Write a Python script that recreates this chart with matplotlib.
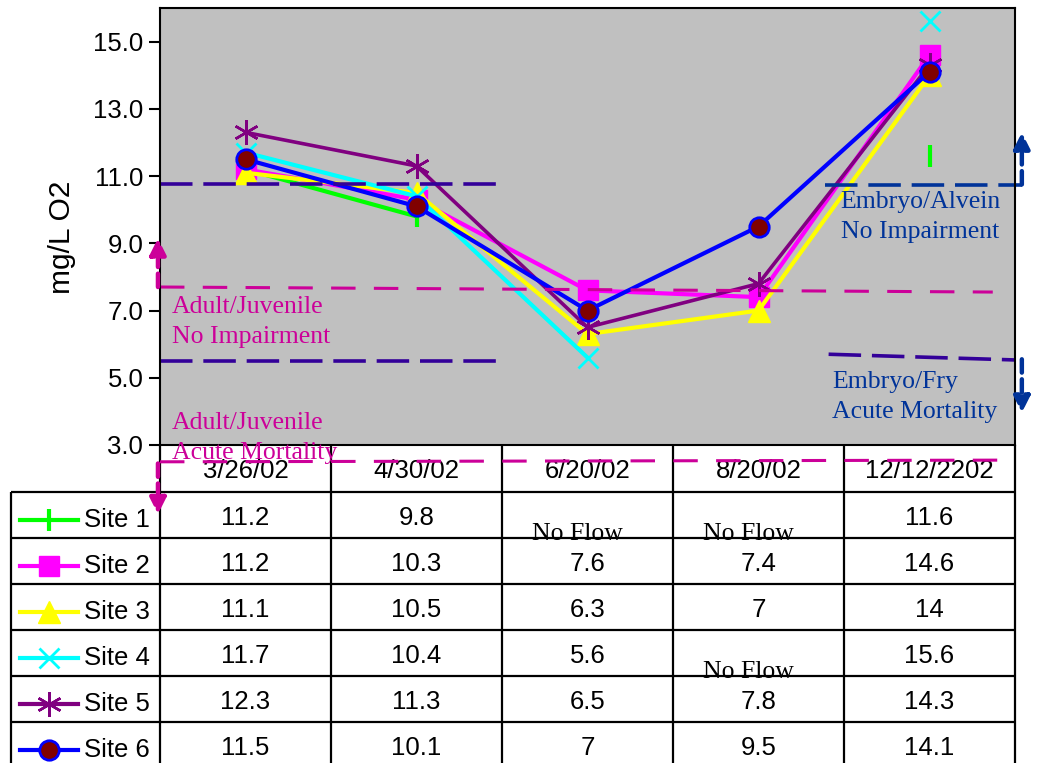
import numpy as np
import matplotlib.pyplot as plt

# dissolved oxygen per site and sampling date (None = no flow)
dates = ['3/26/02', '4/30/02', '6/20/02', '8/20/02', '12/12/2202']
sites = ['Site 1', 'Site 2', 'Site 3', 'Site 4', 'Site 5', 'Site 6']
site1 = [11.2, 9.8, None, None, 11.6]
site2 = [11.2, 10.3, 7.6, 7.4, 14.6]
site3 = [11.1, 10.5, 6.3, 7, 14]
site4 = [11.7, 10.4, 5.6, None, 15.6]
site5 = [12.3, 11.3, 6.5, 7.8, 14.3]
site6 = [11.5, 10.1, 7, 9.5, 14.1]
values = [site1, site2, site3, site4, site5, site6]

# criteria lines (mg/L)
adult_no_imp = 7.7
adult_acute = 2.45
embryo_no_imp = 10.75
embryo_acute = 5.55

W, H = 1039, 763
fig = plt.figure(figsize=(W / 100, H / 100), dpi=100)
fig.patch.set_facecolor('white')

ax_l, ax_r, ax_t, ax_b = 160, 1015, 8, 445
ax = fig.add_axes([ax_l / W, 1 - ax_b / H, (ax_r - ax_l) / W, (ax_b - ax_t) / H])
ax.set_facecolor('#C0C0C0')
ax.set_zorder(2)

styles = [
    dict(color='#00FF00', marker='|', ms=16, mew=3, lw=3),
    dict(color='#FF00FF', marker='s', ms=15, lw=3),
    dict(color='#FFFF00', marker='^', ms=16, lw=3),
    dict(color='#00FFFF', marker='x', ms=15, mew=2, lw=3),
    dict(color='#800080', marker=(6, 2, 0), ms=18, mew=1.8, lw=2.6),
    dict(color='#0000FF', marker='o', ms=14, mfc='#800000', mec='#0000FF', mew=2, lw=3),
]

x = np.arange(len(dates))
for vals, st in zip(values, styles):
    y = np.array([np.nan if v is None else v for v in vals], dtype=float)
    ax.plot(x, y, **st)

ax.set_xlim(-0.5, len(dates) - 0.5)
ax.set_ylim(3, 16)
ax.set_yticks(np.arange(3, 16, 2))
ax.set_yticklabels(['%.1f' % v for v in np.arange(3, 16, 2)], fontsize=18.5,
                   family='Liberation Sans')
ax.set_xticks([])
ax.tick_params(axis='y', direction='out', length=8, width=1.5, pad=4)
for s in ax.spines.values():
    s.set_linewidth(1.5)

magenta = '#CC0099'
indigo = '#330099'
navy = '#003399'

# criteria lines
ax.plot([-0.5, 4.37], [adult_no_imp, adult_no_imp - 0.15], color=magenta, lw=2.2, dashes=(8, 6))
ax.plot([-0.5, 4.42], [adult_acute + 0.05, adult_acute + 0.1], color=magenta, lw=2.2,
        dashes=(8, 6), clip_on=False, zorder=5)
ax.plot([-0.5, 1.49], [embryo_no_imp, embryo_no_imp], color=indigo, lw=2.6, dashes=(9, 3))
ax.plot([-0.5, 1.49], [5.5, 5.5], color=indigo, lw=2.6, dashes=(9, 3))
ax.plot([3.39, 4.54], [embryo_no_imp - 0.02, embryo_no_imp - 0.02], color=navy, lw=2.6,
        dashes=(9, 3), clip_on=False)
ax.plot([3.41, 4.5], [embryo_acute + 0.15, embryo_acute - 0.02], color=indigo, lw=2.6,
        dashes=(9, 3), clip_on=False)

def arrow(xp, y0, y1, c):
    ax.annotate('', xy=(xp, y1), xytext=(xp, y0), annotation_clip=False,
                arrowprops=dict(arrowstyle='-|>', color=c, lw=3.2, ls=(0, (3, 1.5)),
                                mutation_scale=24, shrinkA=0, shrinkB=0))

arrow(-0.512, adult_no_imp, 9.15, magenta)
arrow(-0.512, adult_acute, 0.94, magenta)
arrow(4.54, embryo_no_imp, 12.3, navy)
arrow(4.54, embryo_acute, 3.96, navy)

tkw = dict(family='Liberation Serif', fontsize=18.5, va='top', ha='left', linespacing=1.45)
ax.text(-0.43, 7.43, 'Adult/Juvenile\nNo Impairment', color=magenta, **tkw)
ax.text(-0.43, 3.98, 'Adult/Juvenile\nAcute Mortality', color=magenta, clip_on=False, zorder=4, **tkw)
ax.text(3.48, 10.55, 'Embryo/Alvein\nNo Impairment', color=navy, **tkw)
ax.text(3.43, 5.2, 'Embryo/Fry\nAcute Mortality', color=navy, **tkw)

fig.text(62 / W, 1 - 237 / H, 'mg/L O2', rotation=90, ha='center', va='center',
         fontsize=21.5, family='Liberation Sans')

# data table below the plot, in pixel coordinates
tb = fig.add_axes([0, 0, 1, 1])
tb.set_xlim(0, W)
tb.set_ylim(H, 0)
tb.axis('off')
tb.set_zorder(1)

tab_l = 11
hdr_b = 492
row_h = 46
col_w = (ax_r - ax_l) / len(dates)
nrows = len(sites)
tab_b = hdr_b + row_h * nrows

lk = dict(color='black', lw=1.6, solid_capstyle='butt')
for i in range(len(dates) + 1):
    tb.plot([ax_l + i * col_w] * 2, [ax_b, tab_b], **lk)
tb.plot([tab_l, tab_l], [hdr_b, tab_b], **lk)
for r in range(nrows + 1):
    tb.plot([tab_l, ax_r], [hdr_b + r * row_h] * 2, **lk)

sans = dict(family='Liberation Sans', fontsize=18.5, ha='center', va='center')
for i, d in enumerate(dates):
    tb.text(ax_l + (i + 0.5) * col_w, (ax_b + hdr_b) / 2 + 2, d, **sans)

for r, (name, vals, st) in enumerate(zip(sites, values, styles)):
    yc = hdr_b + (r + 0.5) * row_h + 5
    tb.plot([20, 78], [yc, yc], color=st['color'], lw=3)
    mst = {k: v for k, v in st.items() if k != 'lw'}
    tb.plot([49], [yc], **mst)
    tb.text(84, yc, name, family='Liberation Sans', fontsize=18.5, ha='left', va='center')
    for i, v in enumerate(vals):
        xc = ax_l + (i + 0.5) * col_w
        if v is None:
            tb.text(xc - 10, yc + 14, 'No Flow', family='Liberation Serif', fontsize=18.5,
                    ha='center', va='center')
        else:
            tb.text(xc, yc - 2, '%g' % v, **sans)

fig.savefig('out.png', dpi=100)
